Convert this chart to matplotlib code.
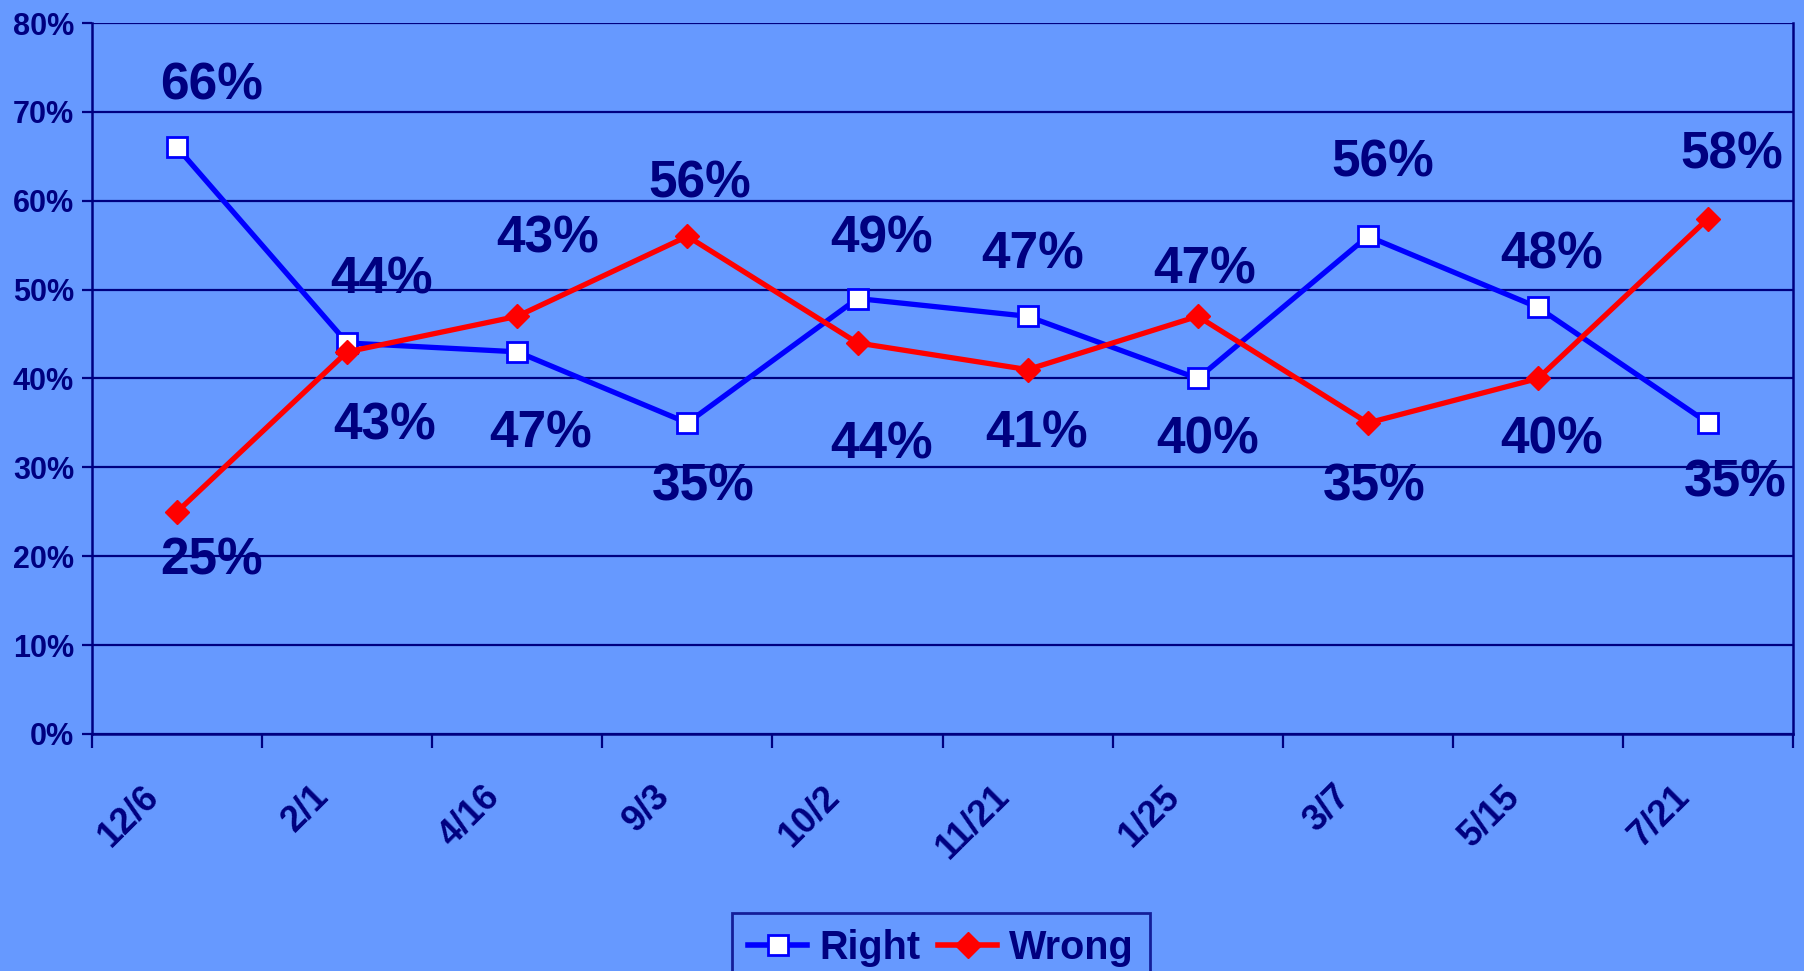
import matplotlib
matplotlib.use("Agg")
import matplotlib.pyplot as plt
from matplotlib.lines import Line2D

categories = ["12/6", "2/1", "4/16", "9/3", "10/2", "11/21", "1/25", "3/7", "5/15", "7/21"]
right = [66, 44, 43, 35, 49, 47, 40, 56, 48, 35]
wrong = [25, 43, 47, 56, 44, 41, 47, 35, 40, 58]
yticks = [0, 10, 20, 30, 40, 50, 60, 70, 80]

# label placement (layout only): y position of each label in data units, x offset in category units
right_label_y = [72.9, 51.1, 55.7, 27.8, 55.7, 53.9, 33.1, 64.2, 53.9, 28.2]
wrong_label_y = [19.5, 34.7, 33.8, 61.9, 32.5, 33.8, 52.2, 27.8, 33.1, 65.1]
right_label_dx = [0.20, 0.20, 0.18, 0.09, 0.14, 0.03, 0.06, 0.09, 0.08, 0.16]
wrong_label_dx = [0.20, 0.22, 0.14, 0.07, 0.14, 0.05, 0.04, 0.04, 0.08, 0.14]

BG = "#6699FF"
NAVY = "#000080"
FONT = "Liberation Sans"

plt.rcParams["font.family"] = [FONT, "DejaVu Sans"]
plt.rcParams["font.weight"] = "bold"

fig = plt.figure(figsize=(18.04, 9.71), dpi=100, facecolor=BG)
ax = fig.add_axes([0.051, 0.2441, 0.943, 0.7322], facecolor=BG)

x = list(range(len(categories)))
ax.set_xlim(-0.5, len(categories) - 0.5)
ax.set_ylim(0, 80)

ax.set_yticks(yticks)
ax.set_yticklabels([f"{v}%" for v in yticks])
ax.yaxis.grid(True, color=NAVY, linewidth=1.6)
ax.set_axisbelow(True)

for s in ["left", "bottom", "right"]:
    ax.spines[s].set_color(NAVY)
    ax.spines[s].set_linewidth(1.8)
ax.spines["top"].set_visible(False)

ax.tick_params(axis="y", colors=NAVY, length=7, width=1.6, pad=6, labelsize=22)
ax.set_xticks([i - 0.5 for i in range(len(categories) + 1)])
ax.set_xticklabels([])
ax.tick_params(axis="x", colors=NAVY, length=10, width=1.6)
for lab in ax.get_yticklabels():
    lab.set_fontweight("bold")
    lab.set_color(NAVY)

for i, c in enumerate(categories):
    ax.annotate(c, xy=(i, 0), xycoords="data", xytext=(-17, -41), textcoords="offset points",
                rotation=45, rotation_mode="anchor", ha="right", va="center",
                fontsize=26, fontweight="bold", color=NAVY, annotation_clip=False)

ax.plot(x, right, color="#0000FF", linewidth=3.8, marker="s", markersize=14,
        markerfacecolor="white", markeredgecolor="#0000FF", markeredgewidth=2, zorder=3,
        label="Right")
ax.plot(x, wrong, color="#FF0000", linewidth=3.8, marker="D", markersize=12,
        markerfacecolor="#FF0000", markeredgecolor="#FF0000", zorder=3, label="Wrong")

for i in x:
    ax.text(i + right_label_dx[i], right_label_y[i], f"{right[i]}%", ha="center", va="center",
            fontsize=37, fontweight="bold", color=NAVY, zorder=4)
    ax.text(i + wrong_label_dx[i], wrong_label_y[i], f"{wrong[i]}%", ha="center", va="center",
            fontsize=37, fontweight="bold", color=NAVY, zorder=4)

handles = [
    Line2D([], [], color="#0000FF", linewidth=4, marker="s", markersize=14,
           markerfacecolor="white", markeredgecolor="#0000FF", markeredgewidth=2),
    Line2D([], [], color="#FF0000", linewidth=4, marker="D", markersize=13,
           markerfacecolor="#FF0000", markeredgecolor="#FF0000"),
]
leg = fig.legend(handles, ["Right", "Wrong"], loc="upper center", bbox_to_anchor=(0.5216, 0.0597),
                 ncol=2, frameon=True, fancybox=False, fontsize=28.5, handlelength=1.5,
                 handletextpad=0.3, columnspacing=0.45, borderpad=0.4, borderaxespad=0)
leg.get_frame().set_facecolor(BG)
leg.get_frame().set_edgecolor(NAVY)
leg.get_frame().set_linewidth(2)
for t in leg.get_texts():
    t.set_color(NAVY)
    t.set_fontweight("bold")

fig.savefig("out.png", dpi=100, facecolor=BG)
